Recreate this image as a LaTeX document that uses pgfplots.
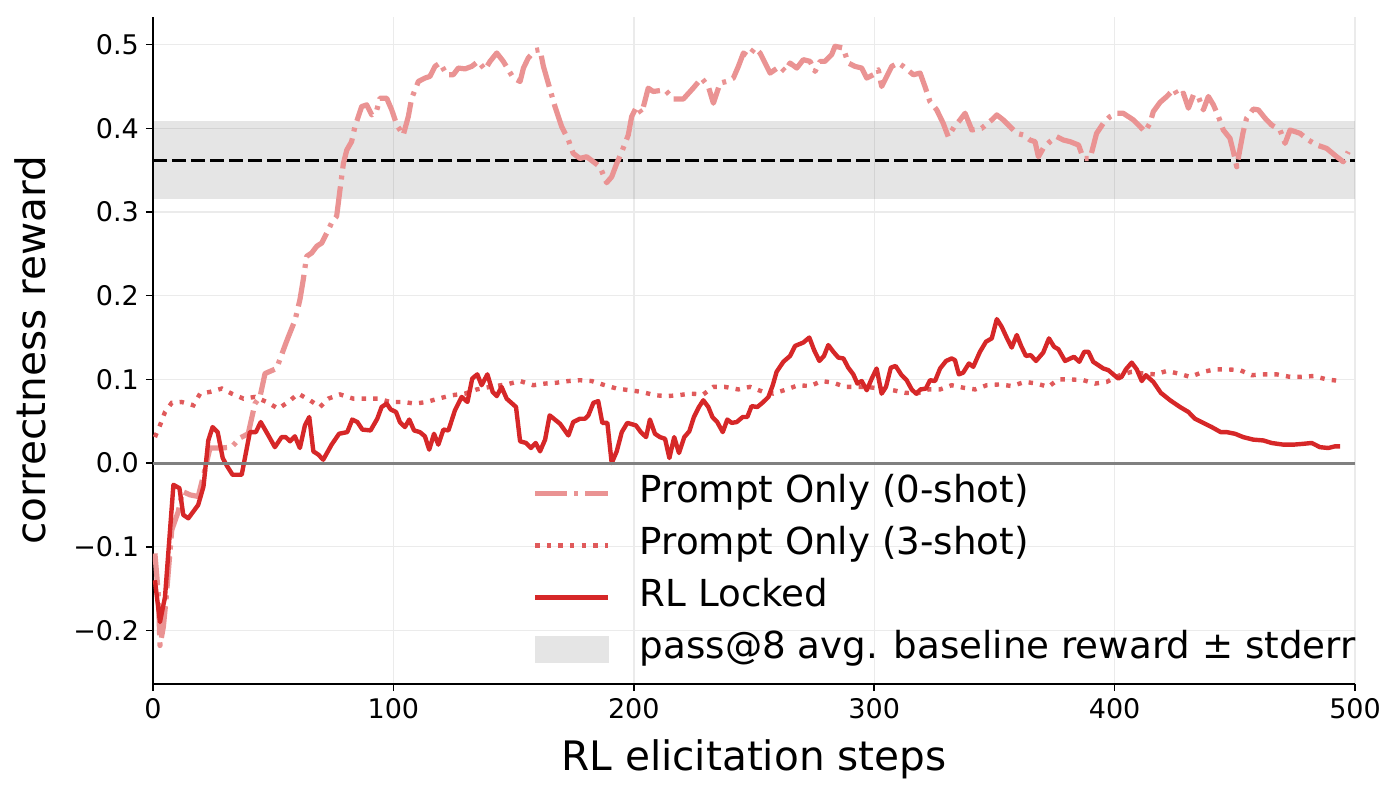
\documentclass[border=0pt]{standalone}
\usepackage{fontspec}
\setmainfont{DejaVu Sans}
\usepackage{pgfplots}
\pgfplotsset{compat=1.18}

\definecolor{rlred}{HTML}{D62728}
\definecolor{threeshot}{HTML}{E05A5B}
\definecolor{zeroshot}{HTML}{EA9393}
\definecolor{bandgray}{HTML}{E5E5E5}

\begin{document}
\begin{tikzpicture}
\begin{axis}[
  scale only axis,
  width=601pt, height=333.5pt,
  at={(0,0)}, anchor=south west,
  xmin=0, xmax=500,
  ymin=-0.264, ymax=0.533,
  axis x line*=bottom, axis y line*=left,
  axis line style={line width=0.75pt, -},
  tick align=outside,
  major tick length=3.5pt,
  tick style={line width=0.75pt, black},
  xtick={0,100,200,300,400,500},
  xticklabels={0,100,200,300,400,500},
  ytick={-0.2,-0.1,0,0.1,0.2,0.3,0.4,0.5},
  yticklabels={−0.2,−0.1,0.0,0.1,0.2,0.3,0.4,0.5},
  ticklabel style={font=\fontsize{13.5}{15}\selectfont},
  grid=major,
  grid style={line width=0.7pt, draw=black!8},
  xlabel={RL elicitation steps},
  ylabel={correctness reward},
  label style={font=\fontsize{20.3}{24}\selectfont},
  xlabel style={yshift=-3.5pt},
  ylabel style={yshift=7pt},
  legend cell align=left,
  legend style={
    at={(rel axis cs:0.3155,0.025)}, anchor=south west,
    draw=none, fill=none, inner sep=0pt,
    font=\fontsize{18.6}{21}\selectfont,
    nodes={inner sep=0pt, text height=13.5pt, text depth=4pt},
    row sep=8.5pt,
    /tikz/every odd column/.append style={column sep=14.5pt},
  },
  legend image code/.code={\draw[#1] (0pt,0pt) -- (36.5pt,0pt);},
]

% baseline band and mean
\addplot[fill=black, fill opacity=0.1, draw=none, forget plot]
  coordinates {(0,0.3155) (500,0.3155) (500,0.4085) (0,0.4085)} -- cycle;
\addplot[black, line width=1.5pt, dash pattern=on 7pt off 2.5pt, forget plot]
  coordinates {(0,0.362) (500,0.362)};

% Prompt Only (0-shot)
\addplot[zeroshot, line width=2.6pt, line join=round, dash pattern=on 16pt off 3.5pt on 2pt off 3.5pt] coordinates {
(0.8,-0.108) (2.2,-0.156) (2.9,-0.218) (4.3,-0.196) (5.4,-0.164) (7.8,-0.08) (10.5,-0.058)
(12.3,-0.034) (15.4,-0.038) (18.8,-0.04) (21.6,-0.008) (23.7,0.018) (28.6,0.018) (32.7,0.019)
(36.2,0.03) (39.6,0.035) (42.4,0.071) (44.5,0.079) (46.6,0.107) (51.4,0.113) (55.5,0.145)
(59.1,0.171) (61.1,0.195) (62.5,0.219) (63.9,0.247) (66,0.251) (68.1,0.259) (70.2,0.263)
(72.3,0.275) (74.3,0.287) (76.4,0.295) (77.8,0.327) (79.2,0.358) (80.6,0.374) (82.6,0.384)
(84,0.402) (85.4,0.414) (86.8,0.426) (88.9,0.428) (91,0.416) (93.1,0.422) (94.4,0.436)
(97.2,0.436) (99.3,0.422) (101.4,0.404) (104.1,0.392) (106.2,0.414) (107.6,0.436) (110.4,0.456)
(113.1,0.46) (115.2,0.462) (117.3,0.474) (119.4,0.478) (122.2,0.464) (124.9,0.464) (127,0.472)
(129.8,0.471) (132.6,0.474) (135.3,0.48) (138.1,0.47) (140.2,0.48) (143,0.49) (145.7,0.48)
(147.8,0.47) (149.9,0.46) (152.7,0.456) (154.1,0.472) (156.1,0.484) (158.9,0.493) (161,0.494)
(162.4,0.474) (164.4,0.454) (167.2,0.426) (170,0.402) (172.8,0.386) (174.8,0.37) (177.6,0.364)
(180.4,0.366) (183.2,0.36) (185.9,0.354) (188.7,0.335) (190.8,0.342) (192.9,0.358) (195,0.372)
(197.7,0.392) (199.1,0.414) (201.2,0.426) (203.3,0.418) (206,0.448) (208.1,0.444) (213,0.446)
(216.4,0.435) (220.6,0.435) (224.7,0.448) (228.2,0.46) (231,0.45) (233.1,0.43) (235.9,0.454)
(238.6,0.456) (241.4,0.46) (243.5,0.474) (245.6,0.49) (247.6,0.486) (250.4,0.496) (252.5,0.49)
(254.6,0.478) (256.7,0.466) (258.7,0.47) (260.8,0.474) (262.9,0.468) (265,0.478) (267.8,0.472)
(270.5,0.482) (273.3,0.48) (275.4,0.468) (277.5,0.48) (279.5,0.48) (282.3,0.488) (283.7,0.498)
(287.1,0.496) (289.2,0.478) (292,0.474) (294.8,0.472) (296.9,0.46) (299.6,0.464) (301.7,0.47)
(303.1,0.45) (305.2,0.462) (307.3,0.474) (310,0.478) (312.1,0.474) (316.3,0.464) (319.1,0.466)
(321.1,0.45) (323.2,0.432) (326,0.422) (328.7,0.406) (330.8,0.39) (333.3,0.402) (335.7,0.41)
(337.8,0.418) (339.2,0.408) (340.6,0.398) (344.7,0.4) (348.9,0.41) (351,0.416) (353.7,0.41)
(356.5,0.402) (359.3,0.394) (362,0.392) (364.8,0.386) (366.9,0.384) (368.3,0.366) (370.3,0.376)
(373.1,0.384) (375.9,0.39) (378.7,0.386) (381.5,0.384) (385,0.38) (387,0.364) (389.8,0.364)
(392.5,0.394) (395.3,0.406) (398.1,0.414) (400.9,0.418) (403.6,0.418) (407.8,0.41) (410.6,0.402)
(412.6,0.396) (414.7,0.406) (416.1,0.42) (418.9,0.431) (421.7,0.438) (424.7,0.447) (426.5,0.438)
(428.6,0.442) (430.7,0.424) (432.8,0.44) (434.8,0.438) (436.9,0.422) (439,0.438) (441.1,0.428)
(443.2,0.414) (445.2,0.398) (448,0.388) (449.4,0.372) (450.8,0.354) (452.2,0.376) (453.5,0.396)
(454.9,0.412) (457.7,0.423) (459.8,0.422) (462.6,0.412) (465.3,0.404) (468.8,0.398) (470.9,0.382)
(473,0.398) (477.1,0.394) (480.6,0.386) (484.1,0.38) (488.2,0.376) (492.4,0.366) (495.1,0.36)
(497.2,0.372)
};
\addlegendentry{Prompt Only (0-shot)}

% Prompt Only (3-shot)
\addplot[threeshot, line width=2.2pt, dash pattern=on 2.2pt off 3.6pt] coordinates {
(0.8,0.031) (2.9,0.045) (5,0.061) (7.8,0.072) (11.9,0.073) (16.8,0.069) (19.6,0.083) (23.7,0.085)
(28.6,0.089) (32.7,0.083) (37.6,0.077) (42.4,0.079) (47.3,0.073) (52.1,0.065) (56.3,0.073)
(60.4,0.083) (65.3,0.075) (69.5,0.067) (72.9,0.077) (77.8,0.082) (83.3,0.077) (88.9,0.077)
(93.7,0.077) (98.6,0.073) (104.1,0.073) (109,0.071) (113.8,0.073) (118.7,0.077) (124.3,0.081)
(129.8,0.083) (134.7,0.088) (140.2,0.091) (147.1,0.094) (152.7,0.098) (158.2,0.093) (163.1,0.095)
(167.9,0.096) (172.8,0.098) (177.6,0.099) (182.5,0.098) (188,0.093) (192.9,0.089) (198.4,0.087)
(203.3,0.085) (208.8,0.081) (213.7,0.08) (218.5,0.081) (223.4,0.083) (228.9,0.082) (233.1,0.091)
(237.9,0.091) (243.5,0.088) (248.3,0.091) (253.9,0.085) (258,0.083) (263.6,0.088) (268.4,0.093)
(273.3,0.092) (278.2,0.098) (283,0.096) (287.9,0.091) (292.7,0.091) (296.9,0.091) (302.4,0.089)
(307.9,0.087) (312.8,0.084) (317.7,0.083) (322.5,0.088) (327.4,0.088) (332.2,0.093) (337.1,0.09)
(342,0.088) (346.8,0.093) (352.3,0.094) (357.2,0.092) (362.7,0.097) (367.6,0.095) (372.4,0.091)
(376.6,0.1) (381.5,0.1) (387,0.099) (391.9,0.095) (396.7,0.097) (402.2,0.105) (407.1,0.109)
(411.9,0.107) (416.8,0.106) (421.7,0.11) (426.5,0.107) (431.4,0.103) (436.9,0.109) (441.8,0.112)
(446.6,0.112) (452.2,0.111) (457,0.105) (462.6,0.106) (467.4,0.106) (473,0.103) (477.8,0.103)
(482.7,0.104) (488.2,0.1) (493.8,0.098)
};
\addlegendentry{Prompt Only (3-shot)}

% RL Locked
\addplot[rlred, line width=2.2pt, line join=round] coordinates {
(0.8,-0.14) (2.9,-0.19) (5,-0.16) (8.5,-0.026) (11,-0.03) (12.6,-0.062) (14.7,-0.066) (18.8,-0.05)
(21,-0.028) (23,0.027) (24.8,0.043) (26.9,0.037) (29,0.006) (30.9,-0.004) (33.1,-0.014)
(36.9,-0.014) (40.3,0.037) (42.8,0.037) (44.8,0.049) (48,0.033) (50.7,0.019) (53.5,0.031)
(55.2,0.031) (57,0.026) (59,0.032) (61.1,0.018) (63.2,0.045) (65,0.055) (66.7,0.014) (68.8,0.01)
(70.8,0.004) (74.3,0.022) (77.4,0.035) (80.8,0.037) (82.9,0.052) (85,0.049) (87.1,0.04)
(90.5,0.039) (93.3,0.053) (95.1,0.067) (97.2,0.071) (98.9,0.064) (101.1,0.061) (102.7,0.049)
(104.8,0.043) (106.6,0.052) (108.6,0.039) (111,0.037) (113.1,0.032) (114.9,0.016) (116.9,0.035)
(118.7,0.022) (120.8,0.04) (122.9,0.039) (125.6,0.063) (128.4,0.079) (130.8,0.073) (132.8,0.101)
(134.9,0.106) (136.7,0.093) (139.1,0.106) (141.3,0.085) (143,0.08) (145,0.091) (147.1,0.077)
(151,0.067) (152.7,0.026) (155.2,0.024) (157.2,0.018) (159.2,0.024) (161,0.014) (163.1,0.028)
(165,0.057) (169.3,0.047) (172.8,0.033) (174.8,0.049) (177.6,0.053) (179.7,0.053) (181.1,0.057)
(183.2,0.072) (185.2,0.074) (186.9,0.048) (189,0.048) (190.8,0.0) (192.9,0.014) (195,0.037)
(197.3,0.048) (200.9,0.045) (202.9,0.037) (205.1,0.031) (206.7,0.052) (208.8,0.035) (210.9,0.031)
(213,0.029) (214.8,0.006) (216.8,0.031) (218.8,0.012) (221,0.031) (223.1,0.038) (225,0.055)
(227.1,0.067) (228.9,0.075) (231,0.067) (232.7,0.055) (234.7,0.049) (237,0.037) (238.9,0.052)
(240.7,0.048) (242.8,0.049) (245.3,0.055) (247.2,0.055) (249,0.068) (251.4,0.067) (253.9,0.073)
(256,0.079) (257.8,0.093) (259.4,0.109) (262.2,0.121) (265,0.128) (267.1,0.14) (270.5,0.144)
(273,0.15) (275,0.135) (277.2,0.122) (279.1,0.128) (280.9,0.141) (283,0.133) (285.1,0.126)
(287.2,0.125) (289.2,0.114) (291.3,0.106) (293,0.095) (294.8,0.098) (296.9,0.087) (299,0.101)
(301,0.113) (303.1,0.083) (304.9,0.091) (306.9,0.114) (308.9,0.116) (311.4,0.105) (313.5,0.099)
(315.6,0.088) (317.4,0.083) (319.3,0.088) (321.5,0.089) (323.2,0.099) (325.3,0.098) (327.4,0.113)
(329.9,0.122) (332.2,0.125) (333.6,0.123) (335.2,0.106) (337,0.108) (339.4,0.119) (341.2,0.115)
(344,0.133) (346.5,0.145) (348.9,0.149) (351,0.172) (353,0.163) (355.1,0.15) (357.2,0.138)
(359.3,0.153) (361.1,0.14) (363.1,0.128) (365.1,0.129) (367.3,0.122) (370.3,0.132) (372.7,0.149)
(374.8,0.139) (376.6,0.136) (379.4,0.122) (383.1,0.127) (385.3,0.121) (387.4,0.133) (389.1,0.133)
(391.1,0.121) (395.3,0.113) (397.4,0.111) (401.5,0.101) (402.9,0.103) (404.7,0.112) (407.1,0.12)
(409.2,0.112) (411.3,0.098) (413,0.105) (416.1,0.097) (419.2,0.084) (423.1,0.075) (427.2,0.067)
(430.7,0.061) (433.4,0.053) (436.9,0.048) (440.4,0.043) (444.1,0.037) (446.6,0.037) (450.1,0.035)
(453.5,0.031) (457.7,0.028) (461.9,0.027) (465.3,0.024) (470.2,0.022) (474.4,0.022) (478.5,0.023)
(482,0.024) (485.4,0.019) (488.9,0.018) (491.7,0.02) (493.8,0.02)
};
\addlegendentry{RL Locked}

% zero reference line
\addplot[black!50, line width=1.5pt, forget plot] coordinates {(0,0) (500,0)};

\addlegendimage{legend image code/.code={\fill[bandgray] (0pt,-6.5pt) rectangle (36.5pt,6.5pt);}}
\addlegendentry{pass@8 avg. baseline reward ± stderr}
\end{axis}
\path[use as bounding box] (-76.5pt,-54pt) rectangle (623.5pt,342pt);
\end{tikzpicture}
\end{document}
